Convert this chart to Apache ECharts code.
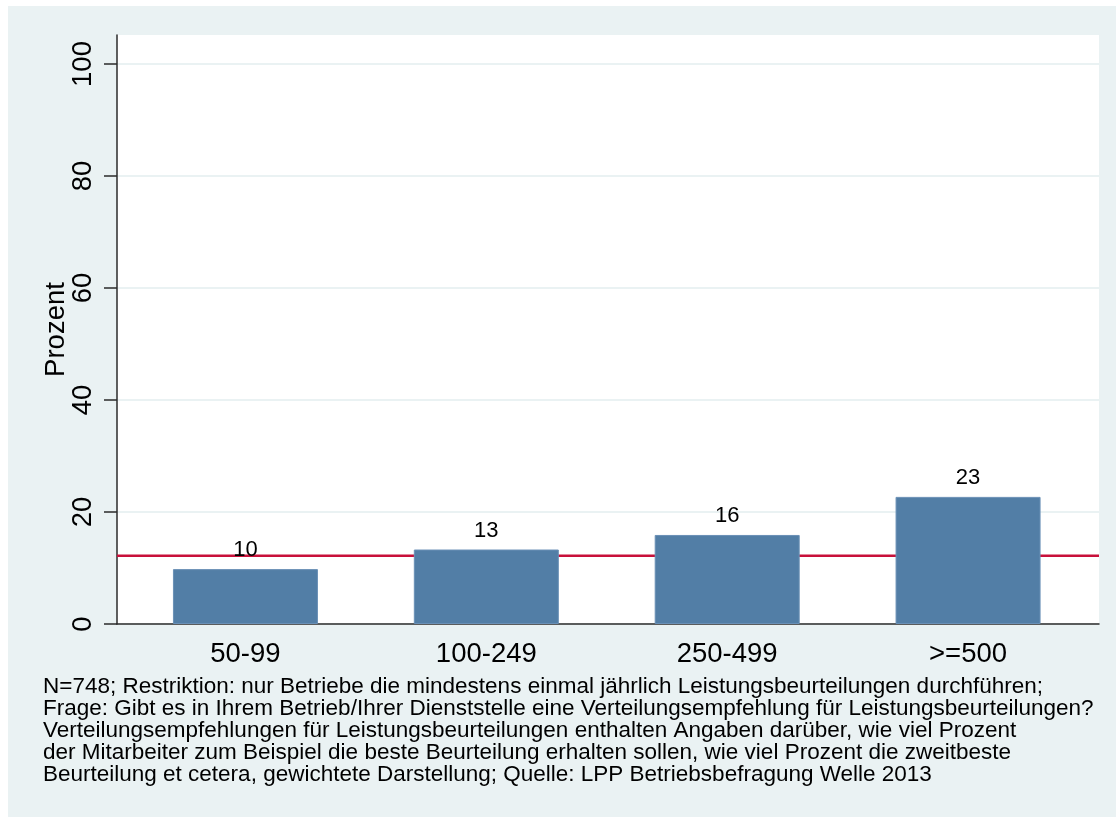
<!DOCTYPE html>
<html>
<head>
<meta charset="utf-8">
<script src="https://cdn.jsdelivr.net/npm/echarts@6/dist/echarts.min.js"></script>
<style>
  html, body { margin: 0; padding: 0; background: #ffffff; }
  #chart { width: 1116px; height: 817px; }
</style>
</head>
<body>
<div id="chart"></div>
<script>
// ---- data ----
const categories = ['50-99', '100-249', '250-499', '>=500'];
const percentValues = [9.8, 13.3, 15.9, 22.7];
const referenceValue = 12.2;
const yTickInterval = 20;
const yMax = 100;
const yAxisTitle = 'Prozent';
const noteLines = [
  'N=748; Restriktion: nur Betriebe die mindestens einmal jährlich Leistungsbeurteilungen durchführen;',
  'Frage: Gibt es in Ihrem Betrieb/Ihrer Dienststelle eine Verteilungsempfehlung für Leistungsbeurteilungen?',
  'Verteilungsempfehlungen für Leistungsbeurteilungen enthalten Angaben darüber, wie viel Prozent',
  'der Mitarbeiter zum Beispiel die beste Beurteilung erhalten sollen, wie viel Prozent die zweitbeste',
  'Beurteilung et cetera, gewichtete Darstellung; Quelle: LPP Betriebsbefragung Welle 2013'
];

const FONT = 'Liberation Sans, Arial, Helvetica, sans-serif';
const axisColor = '#2b2b2b';
const chart = echarts.init(document.getElementById('chart'), null, { renderer: 'canvas' });

const option = {
  animation: false,
  backgroundColor: '#ffffff',
  textStyle: { fontFamily: FONT },
  graphic: [{
    type: 'rect', left: 8, top: 6, z: -10,
    shape: { width: 1108, height: 811 },
    style: { fill: '#eaf2f3' }
  }],
  title: {
    text: noteLines.join('\n'),
    left: 43, top: 676, padding: 0,
    textStyle: { fontFamily: FONT, fontSize: 22.5, fontWeight: 'normal', color: '#000', lineHeight: 22 }
  },
  grid: [
    { left: 117, top: 35, right: 17, bottom: 193, show: true, backgroundColor: '#ffffff', borderWidth: 0, containLabel: false },
    { left: 117, top: 64, right: 17, bottom: 193, containLabel: false },
    { left: 125, top: 64, right: 27.5, bottom: 193, containLabel: false }
  ],
  xAxis: [
    { gridIndex: 0, type: 'value', min: 0, max: 1,
      axisLine: { show: true, lineStyle: { color: axisColor, width: 1.5 } },
      axisTick: { show: false }, axisLabel: { show: false }, splitLine: { show: false } },
    { gridIndex: 1, type: 'value', min: 0, max: 1, show: false },
    { gridIndex: 2, type: 'category', data: categories,
      axisLine: { show: false }, axisTick: { show: false },
      axisLabel: { fontFamily: FONT, fontSize: 27.5, color: '#000', margin: 16 } }
  ],
  yAxis: [
    { gridIndex: 0, type: 'value', min: 0, max: yMax * 1.052,
      name: yAxisTitle, nameLocation: 'middle', nameGap: 47, nameRotate: 90,
      nameTextStyle: { fontFamily: FONT, fontSize: 27.5, color: '#000' },
      axisLine: { show: true, lineStyle: { color: axisColor, width: 1.5 } },
      axisTick: { show: false }, axisLabel: { show: false }, splitLine: { show: false } },
    { gridIndex: 1, type: 'value', min: 0, max: yMax, interval: yTickInterval,
      axisLine: { show: false },
      axisTick: { show: true, length: 13, lineStyle: { color: axisColor, width: 1.5 } },
      axisLabel: { fontFamily: FONT, fontSize: 27.5, color: '#000', rotate: 90, margin: 20 },
      splitLine: { show: true, lineStyle: { color: '#eaf2f3', width: 2 } } },
    { gridIndex: 2, type: 'value', min: 0, max: yMax, show: false }
  ],
  series: [
    { type: 'line', xAxisIndex: 1, yAxisIndex: 1, z: 1,
      data: [[0, referenceValue], [1, referenceValue]],
      symbol: 'none', silent: true,
      lineStyle: { color: '#c8103a', width: 2.5 } },
    { type: 'bar', xAxisIndex: 2, yAxisIndex: 2, z: 3,
      data: percentValues, barWidth: 145,
      itemStyle: { color: '#527ea6', borderColor: '#6a90b6', borderWidth: 1 },
      label: { show: true, position: 'top', distance: 8,
        fontFamily: FONT, fontSize: 22, color: '#000',
        formatter: p => Math.round(p.value) } }
  ]
};
chart.setOption(option);
</script>
</body>
</html>
